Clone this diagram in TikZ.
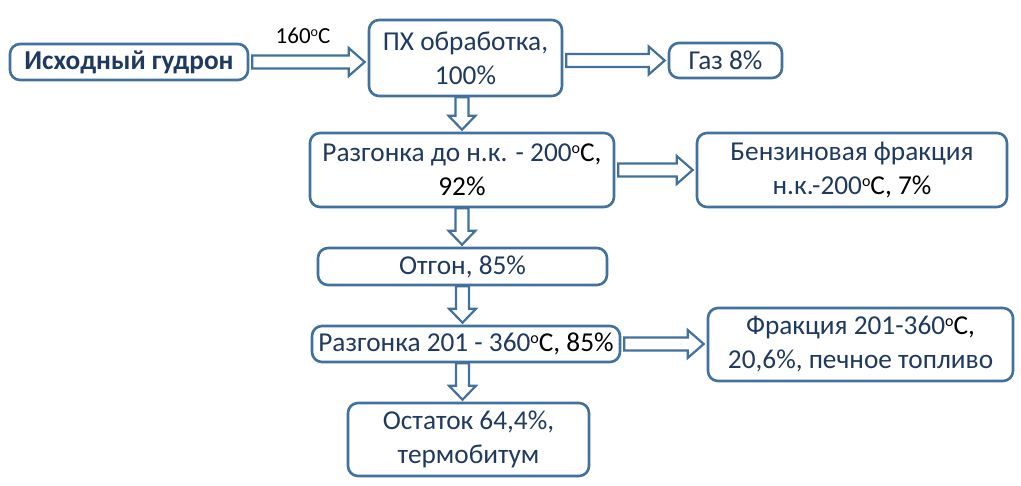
\documentclass[tikz,border=0pt]{standalone}
\usepackage{fontspec}
\setmainfont{Carlito}
\usetikzlibrary{calc}
\definecolor{bord}{HTML}{41719C}
\definecolor{txt}{HTML}{1F3A5F}
\tikzset{
  box/.style={draw=bord, line width=2.6pt, rounded corners=10pt, fill=white,
    text=txt, align=center, inner sep=0pt, font=\fontsize{27.3}{34}\selectfont},
  arr/.style={draw=bord, line width=2.2pt, fill=white, line join=miter},
  lbl/.style={text=black, inner sep=0pt, font=\fontsize{23}{26}\selectfont}
}
\newcommand\degsup{\raisebox{0.62ex}{\fontsize{16}{16}\selectfont o}}
\newcommand\degsm{\raisebox{0.62ex}{\fontsize{14}{14}\selectfont o}}
% horizontal block arrow: #1 source, #2 target, #3 node giving y
\newcommand\harr[3]{\path[arr] let \p1=(#1.east), \p2=(#2.west), \p3=(#3.center) in
  (\x1+3pt,\y3+6.5pt) -- (\x2-19pt,\y3+6.5pt) -- (\x2-19pt,\y3+14pt) -- (\x2-3pt,\y3)
  -- (\x2-19pt,\y3-14pt) -- (\x2-19pt,\y3-6.5pt) -- (\x1+3pt,\y3-6.5pt) -- cycle;}
% vertical block arrow: #1 source, #2 target, #3 node giving x
\newcommand\varr[3]{\path[arr] let \p1=(#1.south), \p2=(#2.north), \p3=(#3.center) in
  (\x3-6.5pt,\y1) -- (\x3-6.5pt,\y2+16pt) -- (\x3-13.5pt,\y2+16pt) -- (\x3,\y2+2pt)
  -- (\x3+13.5pt,\y2+16pt) -- (\x3+6.5pt,\y2+16pt) -- (\x3+6.5pt,\y1) -- cycle;}
\begin{document}
\begin{tikzpicture}[x=1pt,y=-1pt]
\useasboundingbox[fill=white] (0,0) rectangle (1021,486);
\node[box, minimum width=238pt, minimum height=36pt] (src) at (129,62) {\bfseries Исходный гудрон};
\node[box, minimum width=193pt, minimum height=76pt] (px) at (465.5,58) {ПХ обработка,\\100\%};
\node[box, minimum width=113pt, minimum height=35pt] (gas) at (725.5,60.5) {Газ 8\%};
\node[box, minimum width=304pt, minimum height=74pt] (r1) at (462,170) {Разгонка до н.к. - 200{\color{black}\degsup С,}\\{\color{black}92\%}};
\node[box, minimum width=310pt, minimum height=74pt] (benz) at (852,170) {Бензиновая фракция\\н.к.-200{\color{black}\degsup С, 7\%}};
\node[box, minimum width=289pt, minimum height=37pt] (otg) at (462.5,266.5) {Отгон, 85\%};
\node[box, minimum width=308pt, minimum height=36pt] (r2) at (466,344) {Разгонка 201 - 360{\color{black}\degsup С, 85\%}};
\node[box, minimum width=305pt, minimum height=73pt] (fr) at (860.5,344.5) {Фракция 201-360{\color{black}\degsup С,}\\20,6\%, печное топливо};
\node[box, minimum width=241pt, minimum height=73pt] (ost) at (468.5,439.5) {Остаток 64,4\%,\\термобитум};
\node[lbl] (t160) at (303,36) {160\degsm C};
\harr{src}{px}{src}
\harr{px}{gas}{gas}
\harr{r1}{benz}{r1}
\harr{r2}{fr}{r2}
\varr{px}{r1}{r1}
\varr{r1}{otg}{r1}
\varr{otg}{r2}{otg}
\varr{r2}{ost}{otg}
\end{tikzpicture}
\end{document}
